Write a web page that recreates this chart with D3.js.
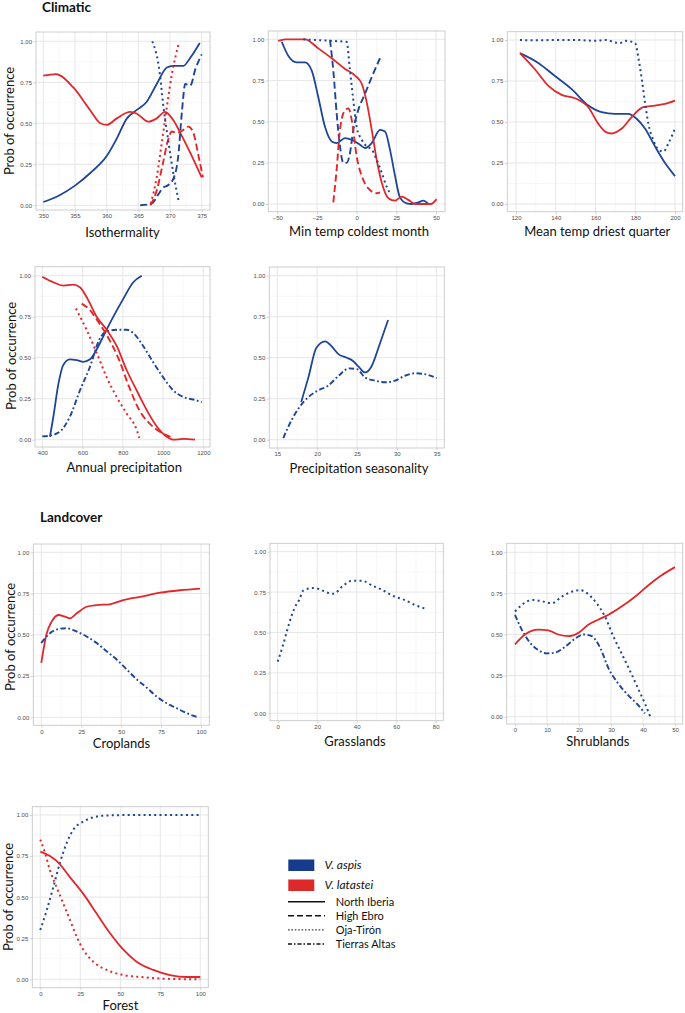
<!DOCTYPE html>
<html><head><meta charset="utf-8">
<script src="https://cdn.jsdelivr.net/npm/d3@7"></script>
<style>body{margin:0;background:#fff}svg{display:block}</style>
</head><body>
<svg id="c" width="685" height="1013"></svg>
<script>
// ---------- tick labels ----------
const probTicks = [0, 0.25, 0.5, 0.75, 1];
const isoTicks = [350, 355, 360, 365, 370, 375];
const minTempTicks = [-50, -25, 0, 25, 50];
const meanTempTicks = [120, 140, 160, 180, 200];
const precipTicks = [400, 600, 800, 1000, 1200];
const seasTicks = [15, 20, 25, 30, 35];
const cropTicks = [0, 25, 50, 75, 100];
const grassTicks = [0, 20, 40, 60, 80];
const shrubTicks = [0, 10, 20, 30, 40, 50];
const forestTicks = [0, 25, 50, 75, 100];

// ---------- series values [x, prob] ----------
// Isothermality
const isoAspisNI = [[350,0.02],[352.5,0.06],[355,0.12],[357.5,0.2],[360,0.3],[361.5,0.4],[363.2,0.53],[364.7,0.58],[366.3,0.63],[367.9,0.74],[369.5,0.84],[370.5,0.85],[372.1,0.85],[373.2,0.9],[374.7,0.99]];
const isoLatasteiNI = [[350,0.79],[352,0.8],[354.7,0.72],[357.4,0.58],[359,0.5],[360,0.49],[361.6,0.53],[363.7,0.57],[364.7,0.56],[366.6,0.51],[367.9,0.53],[369.2,0.57],[370.5,0.52],[371.9,0.42],[373.2,0.32],[375,0.17]];
const isoAspisHE = [[365.3,0],[367.1,0.01],[368.2,0.07],[369,0.11],[369.6,0.12],[370.5,0.16],[371.3,0.3],[371.9,0.58],[372.4,0.74],[373.2,0.73],[374,0.83],[375,0.92]];
const isoLatasteiHE = [[366.9,0],[367.9,0.09],[368.9,0.26],[369.7,0.4],[370.3,0.45],[371.1,0.44],[372.1,0.46],[372.9,0.48],[373.7,0.44],[374.5,0.3],[375.2,0.17]];
const isoAspisOT = [[367.2,1],[368.4,0.8],[368.9,0.62],[369.7,0.4],[370.5,0.2],[371.4,0.02]];
const isoLatasteiOT = [[366.95,0.01],[367.9,0.17],[368.7,0.38],[369.5,0.6],[370.3,0.8],[371.4,0.99]];
// Min temp coldest month
const minAspisNI = [[-47.2,0.985],[-43.1,0.9],[-37.8,0.86],[-32.5,0.86],[-28.3,0.81],[-24.2,0.65],[-20,0.47],[-15.7,0.38],[-12.6,0.37],[-7.3,0.4],[-3.1,0.39],[2.1,0.36],[5.3,0.34],[9.5,0.37],[14.7,0.45],[17.9,0.44],[21,0.33],[24.2,0.17],[27.3,0.04],[31.5,0.004],[34.7,0],[38.9,0.01],[42,0.02],[45.2,0]];
const minLatasteiNI = [[-49.4,0.99],[-45,1],[-32.5,1],[-24.2,0.945],[-15.7,0.885],[-7.3,0.82],[-1,0.78],[3.2,0.73],[6.3,0.62],[9.5,0.45],[12.6,0.27],[15.8,0.13],[20,0.035],[24.2,0.02],[28.4,0.045],[32.6,0.025],[36.8,0],[43,0],[46.6,0],[50.4,0.03]];
const minAspisHE = [[-16.8,0.996],[-14.7,0.81],[-12.6,0.55],[-10.5,0.35],[-8.4,0.25],[-6.3,0.25],[-4.2,0.31],[-2.1,0.45],[1,0.57],[5.3,0.67],[9.5,0.77],[14.7,0.885]];
const minLatasteiHE = [[-14.7,0.01],[-12.6,0.21],[-10.5,0.45],[-7.3,0.57],[-5.2,0.58],[-3.1,0.51],[0,0.29],[4.2,0.146],[8.4,0.085],[12.6,0.065],[14.7,0.07]];
const minAspisOT = [[-33.6,1],[-25,0.995],[-15,0.99],[-6.3,0.985],[-4.2,0.81],[-2.1,0.63],[0,0.47],[3.2,0.39],[6.3,0.35],[9.5,0.33],[12.6,0.27],[15.8,0.19],[18.9,0.105],[21.6,0.055]];
// Mean temp driest quarter
const mtdAspisNI = [[122,0.92],[131.2,0.86],[139.6,0.78],[148,0.7],[156.4,0.6],[163.1,0.56],[169.8,0.55],[176.5,0.55],[180.7,0.52],[184.9,0.46],[190,0.35],[195,0.25],[200,0.17]];
const mtdLatasteiNI = [[122,0.92],[129.6,0.82],[136.3,0.72],[143,0.665],[149.7,0.645],[156.4,0.59],[161.4,0.49],[165,0.44],[168.1,0.43],[173.2,0.46],[178.2,0.53],[184,0.59],[190,0.6],[195,0.61],[200,0.63]];
const mtdAspisOT = [[122,1],[130,0.998],[140,1],[150,1],[160,0.995],[165,1],[170,0.985],[172,0.98],[175,0.995],[178,0.99],[180,0.98],[181.6,0.89],[183.3,0.76],[185,0.61],[186.6,0.49],[189.1,0.39],[191.7,0.33],[194.2,0.32],[196.7,0.37],[200,0.46]];
// Annual precipitation
const apAspisNI = [[438,0.018],[455,0.14],[480,0.34],[504,0.455],[537,0.49],[571,0.485],[604,0.475],[637,0.49],[670,0.55],[703,0.63],[753,0.75],[803,0.86],[852,0.96],[894,1]];
const apLatasteiNI = [[400,0.994],[455,0.96],[504,0.94],[554,0.945],[587,0.93],[620,0.87],[670,0.75],[720,0.67],[770,0.57],[819,0.425],[869,0.3],[919,0.18],[969,0.08],[1018,0.018],[1051,0],[1101,0.005],[1159,0]];
const apLatasteiHE = [[596,0.83],[637,0.79],[683,0.71],[733,0.61],[782,0.485],[832,0.32],[882,0.18],[932,0.1],[982,0.05],[1051,0.01]];
const apLatasteiOT = [[567,0.8],[620,0.67],[670,0.53],[720,0.38],[770,0.26],[819,0.16],[869,0.06],[882,0.01]];
const apAspisTA = [[400,0.02],[438,0.025],[488,0.05],[537,0.14],[587,0.3],[637,0.445],[683,0.61],[720,0.66],[770,0.67],[819,0.67],[852,0.65],[902,0.57],[952,0.47],[1001,0.38],[1051,0.3],[1101,0.26],[1150,0.245],[1192,0.23]];
// Precipitation seasonality
const psAspisNI = [[18,0.23],[18.9,0.38],[19.9,0.56],[21,0.6],[21.8,0.57],[22.7,0.52],[23.7,0.5],[24.5,0.48],[25.2,0.445],[26,0.41],[26.8,0.445],[27.9,0.59],[28.9,0.73]];
const psAspisTA = [[15.75,0.01],[16.8,0.12],[17.8,0.2],[18.9,0.26],[20.1,0.3],[21.4,0.33],[22.7,0.39],[24,0.435],[25,0.43],[26,0.38],[27.3,0.36],[28.5,0.35],[29.8,0.36],[31,0.39],[32.3,0.405],[33.5,0.4],[35,0.375]];
// Croplands
const crLatasteiNI = [[0,0.33],[3.4,0.51],[6.5,0.58],[10.7,0.62],[14.8,0.61],[18,0.6],[22.2,0.63],[28.4,0.67],[34.7,0.68],[43,0.685],[51.3,0.71],[61.8,0.73],[74.3,0.755],[86.8,0.77],[99.4,0.78]];
const crAspisTA = [[0,0.45],[5.4,0.51],[10.7,0.535],[15.9,0.54],[22.2,0.52],[28.4,0.49],[34.7,0.45],[40.9,0.4],[47.2,0.35],[53.5,0.29],[59.7,0.23],[66,0.18],[72.3,0.125],[78.5,0.085],[84.8,0.055],[91,0.025],[98.3,0]];
// Grasslands
const grAspisOT = [[0,0.32],[2.4,0.41],[4.7,0.51],[7.2,0.61],[9.3,0.67],[10.8,0.7],[13,0.76],[17.5,0.775],[20.6,0.77],[25.6,0.745],[28.2,0.74],[33.2,0.79],[37.5,0.82],[42.8,0.82],[47.9,0.79],[52.7,0.765],[57.7,0.73],[64.5,0.7],[69.5,0.67],[75.4,0.645]];
// Shrublands
const shLatasteiNI = [[0,0.44],[3.1,0.5],[7.3,0.53],[10.4,0.525],[13.5,0.5],[16.7,0.49],[19.8,0.51],[22.9,0.56],[26,0.59],[29.2,0.62],[33.3,0.67],[37.5,0.73],[41.7,0.8],[45.8,0.86],[50,0.91]];
const shAspisOT = [[0,0.64],[2.1,0.68],[5.7,0.71],[8.9,0.7],[11.5,0.69],[14.6,0.73],[17.7,0.76],[20.3,0.77],[22.9,0.745],[25.5,0.69],[28.1,0.61],[30.7,0.49],[33.3,0.385],[35.9,0.28],[38.5,0.17],[40.6,0.08],[42.2,0.004]];
const shAspisTA = [[0,0.62],[2.1,0.53],[4.7,0.45],[7.3,0.405],[9.9,0.385],[12.5,0.39],[15.6,0.425],[18.8,0.475],[21.4,0.5],[24,0.49],[26.6,0.42],[29.2,0.295],[32.3,0.2],[35.4,0.13],[38.5,0.07],[40.6,0.02]];
// Forest
const foAspisOT = [[0,0.3],[4,0.42],[8.1,0.56],[12.3,0.71],[16.5,0.83],[20.6,0.91],[26.9,0.96],[33.1,0.986],[41.5,0.997],[60,1],[100,1]];
const foLatasteiNI = [[0,0.777],[6,0.75],[11.3,0.71],[18.6,0.62],[26.9,0.52],[35.2,0.4],[43.6,0.28],[51.9,0.18],[60.2,0.107],[70.6,0.057],[81,0.026],[91.5,0.014],[100,0.014]];
const foLatasteiOT = [[0,0.85],[2.9,0.77],[6,0.665],[10.2,0.56],[14.4,0.46],[18.6,0.36],[22.7,0.26],[26.9,0.18],[33.1,0.107],[41.5,0.057],[51.9,0.026],[64.4,0.013],[79,0.003],[100,0]];

// legend labels
const speciesNames = ["V. aspis", "V. latastei"];
const populationNames = ["North Iberia", "High Ebro", "Oja-Tirón", "Tierras Altas"];
const sectionTitles = ["Climatic", "Landcover"];
const yTitle = "Prob of occurrence";

// ---------- styles ----------
const colors = { aspis: "#1f4597", latastei: "#e0282c" };
const legendColors = { aspis: "#163b8c", latastei: "#dc2a2a" };
const dash = { NI: null, HE: "7 3.5", OT: "2 3.3", TA: "5.5 2.5 1.8 2.5" };
const widths = { NI: 1.8, HE: 1.9, OT: 2, TA: 1.9 };
const legendDash = { NI: null, HE: "6 3", OT: "1.6 1.8", TA: "4 2 1.5 2" };

// ---------- layout ----------
const panels = [
  { title: "Isothermality", box: [36, 32, 210, 210], xDom: [350, 375], xPx: [43.3, 201.7], yPx: [205.3, 41.3], ticks: isoTicks, tpos: [122.5, 237], ytitle: [14, 121],
    series: [[isoAspisNI,"aspis","NI"],[isoLatasteiNI,"latastei","NI"],[isoAspisHE,"aspis","HE"],[isoLatasteiHE,"latastei","HE"],[isoAspisOT,"aspis","OT"],[isoLatasteiOT,"latastei","OT"]] },
  { title: "Min temp coldest month", box: [268.3, 31, 445, 211.7], xDom: [-50, 50], xPx: [277.3, 436], yPx: [204, 39.3], ticks: minTempTicks, tpos: [359, 236],
    series: [[minAspisNI,"aspis","NI"],[minLatasteiNI,"latastei","NI"],[minAspisHE,"aspis","HE"],[minLatasteiHE,"latastei","HE"],[minAspisOT,"aspis","OT"]] },
  { title: "Mean temp driest quarter", box: [507.3, 31.7, 682.7, 211.7], xDom: [120, 200], xPx: [516, 675], yPx: [204, 40], ticks: meanTempTicks, tpos: [597.3, 236],
    series: [[mtdAspisNI,"aspis","NI"],[mtdLatasteiNI,"latastei","NI"],[mtdAspisOT,"aspis","OT"]] },
  { title: "Annual precipitation", box: [35, 266.7, 210, 447], xDom: [400, 1200], xPx: [42.3, 203.3], yPx: [439.7, 275.7], ticks: precipTicks, tpos: [124.3, 471.5], ytitle: [16, 356],
    series: [[apAspisTA,"aspis","TA"],[apAspisNI,"aspis","NI"],[apLatasteiNI,"latastei","NI"],[apLatasteiHE,"latastei","HE"],[apLatasteiOT,"latastei","OT"]] },
  { title: "Precipitation seasonality", box: [269.3, 267, 444.3, 448], xDom: [15, 35], xPx: [277.3, 436.7], yPx: [439.7, 275.7], ticks: seasTicks, tpos: [359, 472.5],
    series: [[psAspisNI,"aspis","NI"],[psAspisTA,"aspis","TA"]] },
  { title: "Croplands", box: [33.3, 544, 209.3, 725.3], xDom: [0, 100], xPx: [41.3, 201], yPx: [717.3, 552.3], ticks: cropTicks, tpos: [121.5, 748], ytitle: [15, 637],
    series: [[crLatasteiNI,"latastei","NI"],[crAspisTA,"aspis","TA"]] },
  { title: "Grasslands", box: [270, 543.3, 443.3, 720.7], xDom: [0, 80], xPx: [277.7, 435.7], yPx: [713.3, 551.7], ticks: grassTicks, tpos: [355, 746],
    series: [[grAspisOT,"aspis","OT"]] },
  { title: "Shrublands", box: [506.7, 543.3, 682.7, 724], xDom: [0, 50], xPx: [515, 675], yPx: [716.7, 552.3], ticks: shrubTicks, tpos: [597.8, 746],
    series: [[shAspisOT,"aspis","OT"],[shAspisTA,"aspis","TA"],[shLatasteiNI,"latastei","NI"]] },
  { title: "Forest", box: [32.3, 806.7, 208.3, 987.7], xDom: [0, 100], xPx: [40.3, 200.3], yPx: [979.3, 815], ticks: forestTicks, tpos: [120.5, 1010], ytitle: [13, 897],
    series: [[foAspisOT,"aspis","OT"],[foLatasteiOT,"latastei","OT"],[foLatasteiNI,"latastei","NI"]] }
];

const svg = d3.select("#c");
svg.append("rect").attr("width", 685).attr("height", 1013).attr("fill", "#fff");
const titleFont = "Lato, 'Open Sans', sans-serif";

panels.forEach((p, i) => {
  const [L, T, R, B] = p.box;
  const x = d3.scaleLinear().domain(p.xDom).range(p.xPx);
  const y = d3.scaleLinear().domain([0, 1]).range(p.yPx);
  const g = svg.append("g");
  const cid = "clip" + i;
  g.append("clipPath").attr("id", cid).append("rect").attr("x", L).attr("y", T).attr("width", R - L).attr("height", B - T);

  // minor grid
  const xMinor = d3.pairs(p.ticks).map(([a, b]) => (a + b) / 2);
  const yMinor = d3.pairs(probTicks).map(([a, b]) => (a + b) / 2);
  g.selectAll(null).data(xMinor).join("line")
    .attr("x1", d => x(d)).attr("x2", d => x(d)).attr("y1", T).attr("y2", B)
    .attr("stroke", "#f1f1f1").attr("stroke-width", 0.6);
  g.selectAll(null).data(yMinor).join("line")
    .attr("y1", d => y(d)).attr("y2", d => y(d)).attr("x1", L).attr("x2", R)
    .attr("stroke", "#f1f1f1").attr("stroke-width", 0.6);
  // major grid
  g.selectAll(null).data(p.ticks).join("line")
    .attr("x1", d => x(d)).attr("x2", d => x(d)).attr("y1", T).attr("y2", B)
    .attr("stroke", "#e4e4e4").attr("stroke-width", 0.9);
  g.selectAll(null).data(probTicks).join("line")
    .attr("y1", d => y(d)).attr("y2", d => y(d)).attr("x1", L).attr("x2", R)
    .attr("stroke", "#e4e4e4").attr("stroke-width", 0.9);

  // axes via d3 axis
  const xAxis = d3.axisBottom(x).tickValues(p.ticks).tickSize(2.5).tickPadding(1.5).tickFormat(d3.format("d"));
  const ax = g.append("g").attr("transform", `translate(0,${B})`).call(xAxis);
  const yAxis = d3.axisLeft(y).tickValues(probTicks).tickSize(2.5).tickPadding(1.5).tickFormat(d3.format(".2f"));
  const ay = g.append("g").attr("transform", `translate(${L},0)`).call(yAxis);
  [ax, ay].forEach(a => {
    a.select(".domain").remove();
    a.selectAll(".tick line").attr("stroke", "#b8b8b8").attr("stroke-width", 0.6);
    a.selectAll(".tick text").attr("fill", "#4d4d4d").attr("font-size", 6).attr("font-family", "'Liberation Sans', Arial, sans-serif");
  });

  // border
  g.append("rect").attr("x", L).attr("y", T).attr("width", R - L).attr("height", B - T)
    .attr("fill", "none").attr("stroke", "#c8c8c8").attr("stroke-width", 0.9);

  // lines
  const line = d3.line().x(d => x(d[0])).y(d => y(d[1])).curve(d3.curveMonotoneX);
  const lg = g.append("g").attr("clip-path", `url(#${cid})`);
  p.series.forEach(([data, sp, pop]) => {
    const path = lg.append("path").attr("d", line(data)).attr("fill", "none")
      .attr("stroke", colors[sp]).attr("stroke-width", widths[pop])
      .attr("stroke-linejoin", "round");
    if (dash[pop]) path.attr("stroke-dasharray", dash[pop]);
  });

  // titles
  svg.append("text").attr("x", p.tpos[0]).attr("y", p.tpos[1]).attr("text-anchor", "middle")
    .attr("font-family", titleFont).attr("font-size", 13).attr("fill", "#111").text(p.title);
  if (p.ytitle) {
    svg.append("text").attr("transform", `translate(${p.ytitle[0]},${p.ytitle[1]}) rotate(-90)`)
      .attr("text-anchor", "middle").attr("font-family", titleFont).attr("font-size", 13).attr("fill", "#111").text(yTitle);
  }
});

// section titles
svg.append("text").attr("x", 42).attr("y", 12).attr("font-family", titleFont).attr("font-weight", "bold")
  .attr("font-size", 13.5).attr("fill", "#111").text(sectionTitles[0]);
svg.append("text").attr("x", 40).attr("y", 522).attr("font-family", titleFont).attr("font-weight", "bold")
  .attr("font-size", 13.5).attr("fill", "#111").text(sectionTitles[1]);

// legend
const leg = svg.append("g");
const spKeys = ["aspis", "latastei"];
const spY = d3.scalePoint().domain(spKeys).range([859.5, 879.5]);
spKeys.forEach((k, i) => {
  leg.append("rect").attr("x", 288.3).attr("y", spY(k)).attr("width", 26).attr("height", 11.5).attr("fill", legendColors[k]);
  leg.append("text").attr("x", 324.5).attr("y", spY(k) + 9).attr("font-family", titleFont).attr("font-style", "italic")
    .attr("font-size", 12).attr("fill", "#111").text(speciesNames[i]);
});
const popKeys = ["NI", "HE", "OT", "TA"];
const popY = d3.scalePoint().domain(popKeys).range([901.7, 944]);
popKeys.forEach((k, i) => {
  const l = leg.append("line").attr("x1", 288).attr("x2", 325).attr("y1", popY(k)).attr("y2", popY(k))
    .attr("stroke", "#111").attr("stroke-width", k === "OT" ? 1 : 1.4);
  if (legendDash[k]) l.attr("stroke-dasharray", legendDash[k]);
  leg.append("text").attr("x", 335.7).attr("y", popY(k) + 4).attr("font-family", titleFont)
    .attr("font-size", 11).attr("fill", "#111").text(populationNames[i]);
});
</script>
</body></html>
